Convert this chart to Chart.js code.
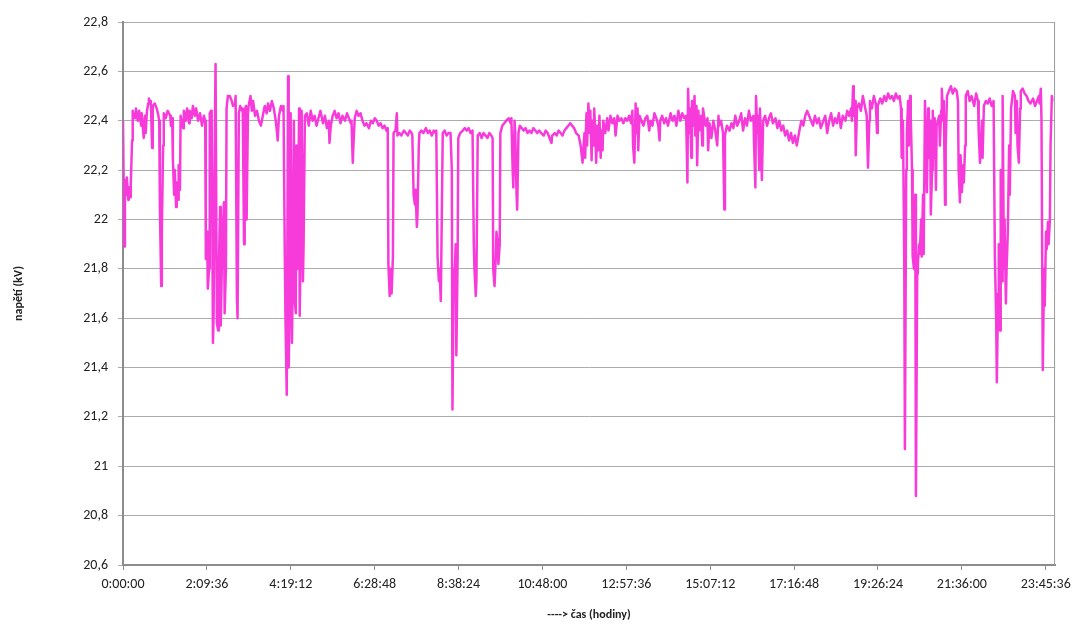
<!DOCTYPE html>
<html>
<head>
<meta charset="utf-8">
<script src="https://cdn.jsdelivr.net/npm/chart.js@4"></script>
<style>
  html, body { margin: 0; background: #fff; }
</style>
</head>
<body>
<canvas id="myChart" width="1077" height="624"></canvas>
<script>
// time of each reading, minutes after midnight
let minutes = [
  0, 2, 3, 5, 6, 8, 9, 11, 12, 14,
  15, 19, 20, 23, 25, 28, 29, 32, 34, 35,
  37, 39, 40, 42, 43, 45, 46, 49, 52, 54,
  56, 57, 59, 60, 62, 63, 66, 69, 73, 74,
  76, 77, 79, 80, 82, 83, 85, 86, 88, 89,
  93, 94, 97, 99, 102, 103, 106, 108, 111, 113,
  116, 119, 122, 125, 127, 128, 130, 131, 133, 134,
  136, 137, 139, 140, 142, 143, 145, 147, 148, 150,
  151, 153, 154, 156, 157, 159, 160, 162, 165, 168,
  170, 173, 174, 176, 177, 179, 181, 184, 185, 187,
  188, 190, 191, 193, 194, 197, 199, 201, 204, 207,
  210, 213, 216, 219, 222, 224, 227, 230, 233, 236,
  238, 239, 241, 244, 247, 248, 250, 251, 253, 255,
  256, 258, 259, 261, 262, 264, 265, 267, 268, 270,
  272, 273, 275, 276, 278, 279, 281, 284, 287, 290,
  293, 296, 299, 302, 305, 309, 312, 315, 318, 319,
  321, 324, 327, 330, 333, 336, 339, 343, 346, 349,
  352, 353, 355, 356, 358, 361, 364, 367, 370, 373,
  376, 380, 383, 386, 389, 392, 395, 398, 401, 404,
  407, 409, 410, 412, 413, 415, 417, 418, 421, 423,
  424, 427, 430, 434, 437, 440, 443, 446, 447, 449,
  451, 452, 454, 455, 457, 458, 461, 464, 468, 471,
  474, 477, 480, 483, 484, 486, 488, 489, 491, 492,
  494, 497, 500, 503, 506, 508, 509, 511, 512, 514,
  515, 517, 518, 521, 525, 528, 531, 534, 537, 540,
  542, 543, 545, 546, 548, 551, 554, 557, 560, 563,
  566, 569, 571, 572, 574, 576, 577, 579, 580, 582,
  583, 586, 589, 592, 596, 599, 600, 602, 603, 605,
  606, 608, 609, 611, 613, 616, 619, 622, 625, 628,
  631, 634, 637, 640, 643, 646, 650, 653, 656, 659,
  662, 663, 667, 670, 673, 676, 679, 682, 685, 688,
  691, 694, 697, 700, 704, 707, 710, 711, 713, 714,
  716, 717, 719, 721, 722, 724, 725, 727, 728, 730,
  731, 733, 734, 736, 738, 739, 741, 742, 745, 748,
  750, 753, 756, 759, 761, 764, 767, 770, 773, 776,
  779, 782, 785, 787, 788, 790, 792, 793, 795, 796,
  798, 801, 804, 807, 810, 813, 815, 818, 821, 824,
  827, 829, 830, 833, 836, 839, 842, 846, 849, 852,
  855, 858, 861, 864, 867, 870, 872, 873, 875, 876,
  878, 879, 881, 883, 884, 886, 887, 889, 890, 893,
  895, 896, 900, 903, 904, 906, 909, 912, 915, 918,
  920, 921, 924, 927, 929, 930, 933, 937, 940, 943,
  946, 949, 952, 955, 958, 961, 964, 967, 970, 974,
  975, 977, 978, 980, 981, 983, 984, 986, 987, 989,
  992, 995, 998, 1001, 1004, 1008, 1011, 1014, 1017, 1020,
  1023, 1026, 1029, 1032, 1035, 1038, 1041, 1045, 1048, 1051,
  1054, 1057, 1060, 1063, 1066, 1069, 1072, 1075, 1078, 1082,
  1085, 1088, 1091, 1094, 1097, 1100, 1103, 1106, 1109, 1112,
  1116, 1119, 1122, 1125, 1126, 1128, 1129, 1131, 1132, 1134,
  1137, 1140, 1143, 1146, 1149, 1151, 1153, 1154, 1157, 1160,
  1163, 1165, 1166, 1170, 1173, 1176, 1179, 1182, 1185, 1188,
  1191, 1194, 1197, 1200, 1202, 1203, 1205, 1207, 1208, 1210,
  1211, 1213, 1214, 1216, 1217, 1219, 1220, 1222, 1224, 1225,
  1227, 1228, 1230, 1231, 1233, 1234, 1236, 1237, 1239, 1241,
  1242, 1244, 1245, 1247, 1248, 1250, 1251, 1253, 1254, 1256,
  1257, 1261, 1262, 1264, 1265, 1267, 1268, 1270, 1271, 1273,
  1276, 1279, 1282, 1285, 1288, 1290, 1291, 1293, 1294, 1296,
  1298, 1299, 1301, 1302, 1305, 1308, 1311, 1315, 1318, 1321,
  1322, 1324, 1325, 1327, 1328, 1330, 1333, 1336, 1339, 1342,
  1345, 1347, 1349, 1350, 1352, 1353, 1355, 1356, 1358, 1359,
  1361, 1362, 1364, 1365, 1367, 1369, 1370, 1372, 1375, 1378,
  1379, 1381, 1382, 1384, 1386, 1387, 1390, 1393, 1396, 1399,
  1402, 1406, 1409, 1412, 1415, 1416, 1418, 1419, 1421, 1423,
  1424, 1426, 1427, 1429, 1430, 1432, 1433, 1435, 1436
];
// napeti in kV, same order as minutes
let kv = [
  22.40, 21.89, 22.16, 22.10, 22.17, 22.08, 22.13, 22.09, 22.14, 22.32,
  22.44, 22.41, 22.45, 22.40, 22.44, 22.38, 22.43, 22.33, 22.42, 22.35,
  22.44, 22.47, 22.49, 22.47, 22.48, 22.29, 22.46, 22.47, 22.45, 22.43,
  22.40, 22.05, 21.73, 21.95, 22.30, 22.43, 22.41, 22.44, 22.42, 22.38,
  22.41, 22.25, 22.10, 22.20, 22.05, 22.15, 22.08, 22.22, 22.12, 22.42,
  22.37, 22.44, 22.40, 22.45, 22.39, 22.44, 22.41, 22.46, 22.42, 22.45,
  22.40, 22.43, 22.38, 22.42, 22.40, 21.84, 21.95, 21.72, 21.80, 22.43,
  22.44, 22.41, 21.50, 21.62, 22.40, 22.63, 21.58, 21.55, 21.80, 22.05,
  21.57, 21.85, 21.95, 22.07, 21.62, 21.80, 22.45, 22.50, 22.50, 22.48,
  22.46, 22.47, 22.50, 21.68, 21.60, 22.43, 22.46, 22.44, 22.45, 21.90,
  22.44, 22.46, 22.00, 22.42, 22.46, 22.50, 22.44, 22.48, 22.42, 22.44,
  22.40, 22.38, 22.42, 22.46, 22.43, 22.47, 22.44, 22.48, 22.45, 22.40,
  22.35, 22.32, 22.42, 22.46, 22.44, 22.46, 21.85, 21.60, 21.29, 22.58,
  21.40, 21.75, 22.43, 21.50, 21.70, 22.40, 21.68, 21.62, 22.30, 21.80,
  22.45, 21.61, 22.00, 22.44, 21.75, 21.90, 22.42, 22.43, 22.38, 22.44,
  22.40, 22.42, 22.38, 22.41, 22.44, 22.39, 22.42, 22.37, 22.40, 22.31,
  22.38, 22.42, 22.44, 22.41, 22.43, 22.39, 22.42, 22.40, 22.43, 22.41,
  22.39, 22.40, 22.23, 22.30, 22.41, 22.44, 22.42, 22.43, 22.40, 22.38,
  22.39, 22.37, 22.40, 22.39, 22.41, 22.40, 22.38, 22.39, 22.37, 22.38,
  22.36, 22.37, 21.82, 21.69, 21.80, 21.70, 21.85, 22.35, 22.36, 22.43,
  22.34, 22.35, 22.34, 22.36, 22.35, 22.34, 22.36, 22.35, 22.34, 22.10,
  22.06, 22.12, 21.97, 22.02, 22.30, 22.35, 22.36, 22.35, 22.37, 22.35,
  22.36, 22.34, 22.36, 22.35, 22.36, 21.85, 21.75, 21.80, 21.67, 21.90,
  22.35, 22.36, 22.34, 22.35, 22.35, 22.20, 21.23, 21.80, 21.75, 21.90,
  21.45, 21.85, 22.33, 22.35, 22.36, 22.37, 22.36, 22.37, 22.35, 22.36,
  21.90, 21.80, 21.69, 21.75, 22.34, 22.35, 22.33, 22.35, 22.34, 22.33,
  22.35, 22.34, 22.33, 21.80, 21.73, 21.85, 21.95, 21.90, 21.82, 21.90,
  22.35, 22.38, 22.39, 22.40, 22.41, 22.39, 22.41, 22.20, 22.13, 22.40,
  22.35, 22.10, 22.04, 22.35, 22.38, 22.37, 22.36, 22.37, 22.35, 22.36,
  22.35, 22.37, 22.36, 22.35, 22.36, 22.35, 22.34, 22.36, 22.35, 22.33,
  22.31, 22.34, 22.35, 22.34, 22.36, 22.35, 22.34, 22.36, 22.37, 22.38,
  22.39, 22.38, 22.37, 22.35, 22.34, 22.30, 22.23, 22.28, 22.35, 22.25,
  22.43, 22.30, 22.47, 22.35, 22.44, 22.24, 22.40, 22.30, 22.45, 22.33,
  22.23, 22.38, 22.28, 22.42, 22.25, 22.36, 22.28, 22.40, 22.35, 22.41,
  22.36, 22.42, 22.39, 22.41, 22.34, 22.42, 22.40, 22.41, 22.39, 22.41,
  22.40, 22.42, 22.39, 22.44, 22.30, 22.23, 22.47, 22.35, 22.45, 22.28,
  22.42, 22.40, 22.38, 22.41, 22.42, 22.36, 22.40, 22.38, 22.43, 22.41,
  22.38, 22.32, 22.40, 22.42, 22.39, 22.41, 22.38, 22.43, 22.40, 22.42,
  22.38, 22.44, 22.40, 22.43, 22.41, 22.42, 22.15, 22.53, 22.35, 22.45,
  22.25, 22.48, 22.38, 22.50, 22.34, 22.46, 22.22, 22.44, 22.36, 22.42,
  22.30, 22.45, 22.38, 22.41, 22.28, 22.39, 22.33, 22.40, 22.36, 22.30,
  22.42, 22.38, 22.40, 22.35, 22.04, 22.34, 22.38, 22.36, 22.39, 22.37,
  22.42, 22.38, 22.40, 22.43, 22.36, 22.41, 22.38, 22.44, 22.40, 22.42,
  22.30, 22.13, 22.50, 22.35, 22.42, 22.20, 22.45, 22.30, 22.16, 22.40,
  22.42, 22.38, 22.41, 22.43, 22.39, 22.41, 22.37, 22.40, 22.36, 22.38,
  22.34, 22.36, 22.32, 22.35, 22.31, 22.34, 22.30, 22.36, 22.40, 22.38,
  22.42, 22.44, 22.42, 22.40, 22.38, 22.42, 22.39, 22.41, 22.37, 22.40,
  22.42, 22.35, 22.40, 22.43, 22.38, 22.41, 22.39, 22.43, 22.37, 22.42,
  22.40, 22.44, 22.42, 22.45, 22.40, 22.54, 22.42, 22.48, 22.26, 22.45,
  22.47, 22.44, 22.50, 22.46, 22.42, 22.21, 22.40, 22.48, 22.45, 22.50,
  22.47, 22.35, 22.46, 22.49, 22.47, 22.50, 22.48, 22.51, 22.49, 22.50,
  22.48, 22.51, 22.49, 22.50, 22.45, 22.25, 22.40, 21.83, 21.07, 22.20,
  22.35, 22.48, 22.30, 22.50, 22.42, 22.20, 21.85, 21.80, 22.10, 20.88,
  21.78, 21.82, 21.90, 21.86, 22.00, 21.85, 22.10, 21.86, 22.48, 22.30,
  22.11, 22.45, 22.25, 22.40, 22.02, 22.20, 22.44, 22.25, 22.41, 22.12,
  22.38, 22.42, 22.30, 22.44, 22.53, 22.40, 22.48, 22.06, 22.30, 22.50,
  22.52, 22.54, 22.51, 22.53, 22.52, 22.48, 22.20, 22.07, 22.26, 22.11,
  22.22, 22.15, 22.30, 22.50, 22.52, 22.48, 22.50, 22.46, 22.51, 22.48,
  22.35, 22.23, 22.30, 22.40, 22.25, 22.46, 22.48, 22.47, 22.49, 22.46,
  22.48, 21.85, 21.60, 21.34, 21.70, 21.90, 21.55, 22.20, 21.75, 22.50,
  21.80, 22.00, 21.66, 21.79, 21.95, 22.30, 22.10, 22.45, 22.52, 22.50,
  22.35, 22.48, 22.30, 22.23, 22.45, 22.52, 22.53, 22.51, 22.50, 22.48,
  22.47, 22.49, 22.46, 22.48, 22.50, 22.47, 22.53, 22.40, 21.39, 21.80,
  21.65, 21.95, 21.88, 21.99, 21.90, 22.00, 22.30, 22.50, 22.48
];
let xTickLabels = ['0:00:00', '2:09:36', '4:19:12', '6:28:48', '8:38:24', '10:48:00',
  '12:57:36', '15:07:12', '17:16:48', '19:26:24', '21:36:00', '23:45:36'];
let yTicks = [20.6, 20.8, 21, 21.2, 21.4, 21.6, 21.8, 22, 22.2, 22.4, 22.6, 22.8];

function toMinutes(label){
  let p = label.split(':').map(Number);
  return p[0] * 60 + p[1] + p[2] / 60;
}

let points = minutes.map((m, i) => ({x: m, y: kv[i]}));

// right edge of the plot frame
const frameRight = {
  id: 'frameRight',
  beforeDatasetsDraw(chart){
    let a = chart.chartArea;
    let c = chart.ctx;
    c.save();
    c.strokeStyle = '#9a9a9a';
    c.lineWidth = 1;
    c.beginPath();
    c.moveTo(a.right - 0.5, a.top);
    c.lineTo(a.right - 0.5, a.bottom);
    c.stroke();
    c.restore();
  }
};

Chart.defaults.font.family = 'Carlito, Lato, sans-serif';
Chart.defaults.color = '#222';

let ctx = document.getElementById('myChart').getContext('2d');
let myChart = new Chart(ctx, {
  type: 'line',
  data: {
    datasets: [{
      label: 'napětí',
      data: points,
      borderColor: '#f73bdb',
      borderWidth: 2.5,
      borderJoinStyle: 'round',
      pointRadius: 0,
      tension: 0,
      fill: false
    }]
  },
  options: {
    responsive: false,
    animation: false,
    plugins: {
      legend: { display: false },
      tooltip: { enabled: false }
    },
    layout: { padding: { left: 4, top: 22, right: 21, bottom: 2 } },
    scales: {
      x: {
        type: 'linear',
        min: 0,
        max: 1440,
        afterBuildTicks: scale => {
          scale.ticks = xTickLabels.map(l => ({value: toMinutes(l)}));
        },
        afterFit: scale => { scale.height = 57; },
        ticks: {
          autoSkip: false,
          maxRotation: 0,
          padding: 6,
          font: { size: 14 },
          callback: (value, index) => xTickLabels[index]
        },
        grid: {
          drawOnChartArea: false,
          drawTicks: true,
          tickLength: 5,
          color: '#8c8c8c'
        },
        border: { color: '#8c8c8c', width: 2 },
        title: {
          display: true,
          text: '----> čas (hodiny)',
          font: { size: 12, weight: 'bold' },
          padding: { top: 4, bottom: 0 }
        }
      },
      y: {
        min: 20.6,
        max: 22.8,
        afterBuildTicks: scale => {
          scale.ticks = yTicks.map(v => ({value: v}));
        },
        afterFit: scale => { scale.width = 119; },
        ticks: {
          padding: 10,
          font: { size: 14 },
          callback: value => String(Number(value.toFixed(1))).replace('.', ',')
        },
        grid: {
          color: '#acacac',
          lineWidth: 1,
          tickLength: 5
        },
        border: { color: '#8c8c8c', width: 2 },
        title: {
          display: true,
          text: 'napětí (kV)',
          font: { size: 12, weight: 'bold' },
          padding: { top: 8, bottom: 0 }
        }
      }
    }
  },
  plugins: [frameRight]
});
</script>
</body>
</html>
